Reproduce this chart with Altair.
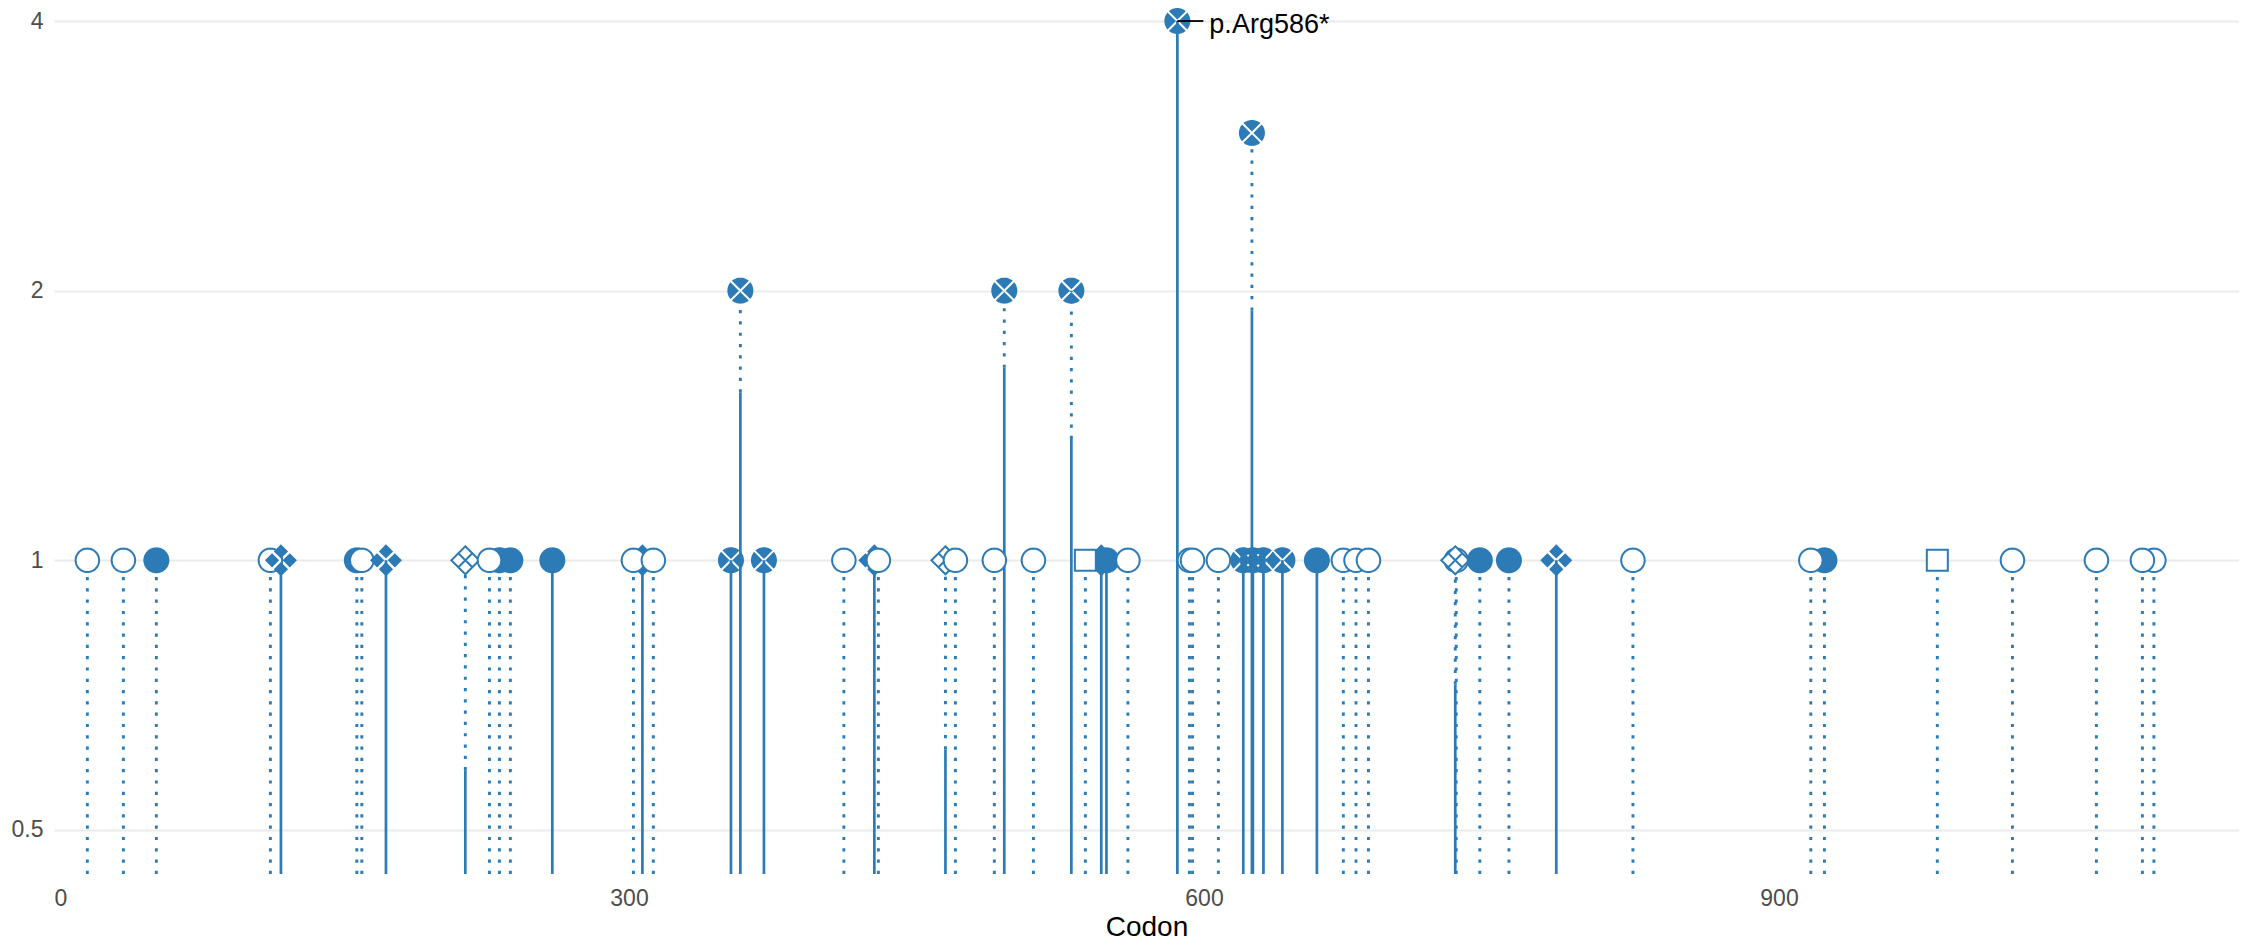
import math
import altair as alt
import pandas as pd

# ---------------- data (draw order) ----------------
codon = [17.4, 36.2, 53.4, 112.9, 118.4, 158.0, 160.6, 173.2, 214.6, 238.1,
         232.4, 227.2, 260.0, 307.0, 302.3, 312.7, 353.2, 358.1, 370.4, 412.1,
         428.0, 430.1, 465.1, 470.3, 490.6, 495.8, 511.0, 530.8, 549.1, 546.4,
         538.1, 560.3, 586.1, 592.4, 594.0, 607.5, 620.5, 625.5, 631.0, 640.9,
         625.0, 658.9, 672.7, 679.3, 685.8, 731.6, 731.1, 743.9, 759.1, 783.8,
         823.8, 923.7, 916.6, 982.6, 1021.8, 1065.6, 1095.6, 1089.6]
count = [1, 1, 1, 1, 1, 1, 1, 1, 1, 1,
         1, 1, 1, 1, 1, 1, 1, 2, 1, 1,
         1, 1, 1, 1, 1, 2, 1, 2, 1, 1,
         1, 1, 4, 1, 1, 1, 1, 1, 1, 1,
         3, 1, 1, 1, 1, 1, 1, 1, 1, 1,
         1, 1, 1, 1, 1, 1, 1, 1]
mtype = ["OC", "OC", "FC", "OC", "FDX", "FC", "OC", "FDX", "ODX", "FC",
         "FCX", "OC", "FC", "FDX", "OC", "OC", "FCX", "FCX", "FCX", "OC",
         "FDX", "OC", "ODX", "OC", "OC", "FCX", "OC", "FCX", "FC", "FDX",
         "OS", "OC", "FCX", "OC", "OC", "OC", "FCX", "FCX", "FCX", "FCX",
         "FCX", "FC", "OC", "OC", "OC", "OC", "ODX", "FC", "FC", "FDX",
         "OC", "FC", "OC", "OS", "OC", "OC", "OC", "OC"]
# level up to which the stem is drawn solid (0 = fully dotted)
solid_to = [0, 0, 0, 0, 1, 0, 0, 1, 0.583, 0,
            0, 0, 1, 1, 0, 0, 1, 1.54, 1, 0,
            1, 0, 0.615, 0, 0, 1.64, 0, 1.366, 1, 1,
            0, 0, 4, 0, 0, 0, 1, 1, 1, 1,
            1.9, 1, 0, 0, 0, 0, 0.727, 0, 0, 1,
            0, 0, 0, 0, 0, 0, 0, 0]

label_codon = [586.1]
label_count = [4]
label_text = ["p.Arg586*"]

x_ticks = [0, 300, 600, 900]
y_ticks = [0.5, 1, 2, 4]

# ---------------- style ----------------
BLUE = "#2c7bb6"
FONT = "Liberation Sans"
Y_MIN, Y_MAX = 0.4465, 4.136
X_MAX = 1140
W, H = 2185, 866


def fmt(pts):
    return "M" + "L".join(f"{x:.4f},{y:.4f}" for x, y in pts) + "Z"


def rot(pts, k):
    out = []
    for x, y in pts:
        for _ in range(k):
            x, y = -y, x
        out.append((x, y))
    return out


def circle_path(r, n=64):
    return fmt([(r * math.cos(2 * math.pi * i / n), r * math.sin(2 * math.pi * i / n)) for i in range(n)])


def circle_x_path(r, c=0.11, n=16):
    x0 = (-c + math.sqrt(2 - c * c)) / 2
    y0 = -x0 - c
    a1 = math.atan2(y0, x0)
    a2 = math.atan2(y0, -x0)
    pts = [(0, -c)]
    for i in range(n + 1):
        a = a1 + (a2 - a1) * i / n
        pts.append((math.cos(a), math.sin(a)))
    pts = [(x * r, y * r) for x, y in pts]
    return " ".join(fmt(rot(pts, k)) for k in range(4))


def diamond_x_path(r, c=0.11):
    pts = [(0, -1), ((1 - c) / 2, -(1 + c) / 2), (0, -c), (-(1 - c) / 2, -(1 + c) / 2)]
    pts = [(x * r, y * r) for x, y in pts]
    return " ".join(fmt(rot(pts, k)) for k in range(4))


def open_diamond_x_path(r):
    h = r / 2
    return (f"M0,{-r}L{r},0L0,{r}L{-r},0Z "
            f"M{-h},{-h}L{h},{h} M{h},{-h}L{-h},{h}")


def square_path(h):
    return fmt([(-h, -h), (h, -h), (h, h), (-h, h)])


types = ["OC", "FC", "FCX", "FDX", "ODX", "OS"]
shape_range = [circle_path(0.734), circle_path(0.8125), circle_x_path(0.8125),
               diamond_x_path(1.0), open_diamond_x_path(0.875), square_path(0.656)]
fill_range = ["white", BLUE, BLUE, BLUE, "white", "white"]
stroke_range = [BLUE, "transparent", "transparent", "transparent", BLUE, BLUE]

pts = pd.DataFrame({"codon": codon, "count": count, "mtype": mtype, "idx": range(len(codon))})

BOT = Y_MIN
segs = []
for cd, ct, st in zip(codon, count, solid_to):
    if st > 0:
        segs.append({"codon": cd, "lo": BOT, "hi": st, "style": "solid"})
    if st < ct:
        segs.append({"codon": cd, "lo": st if st > 0 else BOT, "hi": ct, "style": "dotted"})
segs = pd.DataFrame(segs)

lab = pd.DataFrame({"codon": label_codon, "count": label_count, "text": label_text})

xscale = alt.Scale(domain=[0, X_MAX], nice=False, zero=False)
yscale = alt.Scale(type="log", domain=[Y_MIN, Y_MAX], nice=False, zero=False)
xaxis = alt.Axis(values=x_ticks, grid=False, domain=False, ticks=False,
                 labelFontSize=23, labelColor="#4d4d4d", labelPadding=13, labelFont=FONT,
                 titleFontSize=28, titleColor="black", titleFontWeight="normal", titleFont=FONT,
                 titlePadding=3)
yaxis = alt.Axis(values=y_ticks, format="~g", grid=True, gridColor="#ebebeb", gridWidth=2,
                 domain=False, ticks=False, labelFontSize=23, labelColor="#4d4d4d",
                 labelPadding=11, labelFont=FONT)


def X(f):
    return alt.X(f, scale=xscale, axis=xaxis, title="Codon")


def Y(f):
    return alt.Y(f, scale=yscale, axis=yaxis, title=None)


solid = alt.Chart(segs).transform_filter(alt.datum.style == "solid").mark_rule(
    color=BLUE, strokeWidth=2.7, strokeCap="butt").encode(
    x=X("codon:Q"), y=Y("lo:Q"), y2="hi:Q")

dotted = alt.Chart(segs).transform_filter(alt.datum.style == "dotted").mark_rule(
    color=BLUE, strokeWidth=2.9, strokeCap="butt", strokeDash=[3.2, 8.1]).encode(
    x=X("codon:Q"), y=Y("lo:Q"), y2="hi:Q")

points = alt.Chart(pts).mark_point(filled=True, opacity=1, size=1024, strokeWidth=2).encode(
    x=X("codon:Q"), y=Y("count:Q"),
    shape=alt.Shape("mtype:N", scale=alt.Scale(domain=types, range=shape_range), legend=None),
    fill=alt.Fill("mtype:N", scale=alt.Scale(domain=types, range=fill_range), legend=None),
    stroke=alt.Stroke("mtype:N", scale=alt.Scale(domain=types, range=stroke_range), legend=None),
    order=alt.Order("idx:Q"))

lead = alt.Chart(lab).mark_rule(color="black", strokeWidth=1.8, x2Offset=26).encode(
    x=X("codon:Q"), x2="codon:Q", y=Y("count:Q"))

text = alt.Chart(lab).mark_text(align="left", baseline="middle", dx=32, dy=4,
                                fontSize=27, font=FONT, color="black").encode(
    x=X("codon:Q"), y=Y("count:Q"), text="text:N")

chart = alt.layer(solid, dotted, points, lead, text).properties(
    width=W, height=H,
    autosize=alt.AutoSizeParams(type="none"),
    padding={"left": 46, "top": 0, "right": 0, "bottom": 69},
    background="white",
).configure_view(stroke=None)

chart.save("out.html", embed_options={"renderer": "svg", "actions": False})
